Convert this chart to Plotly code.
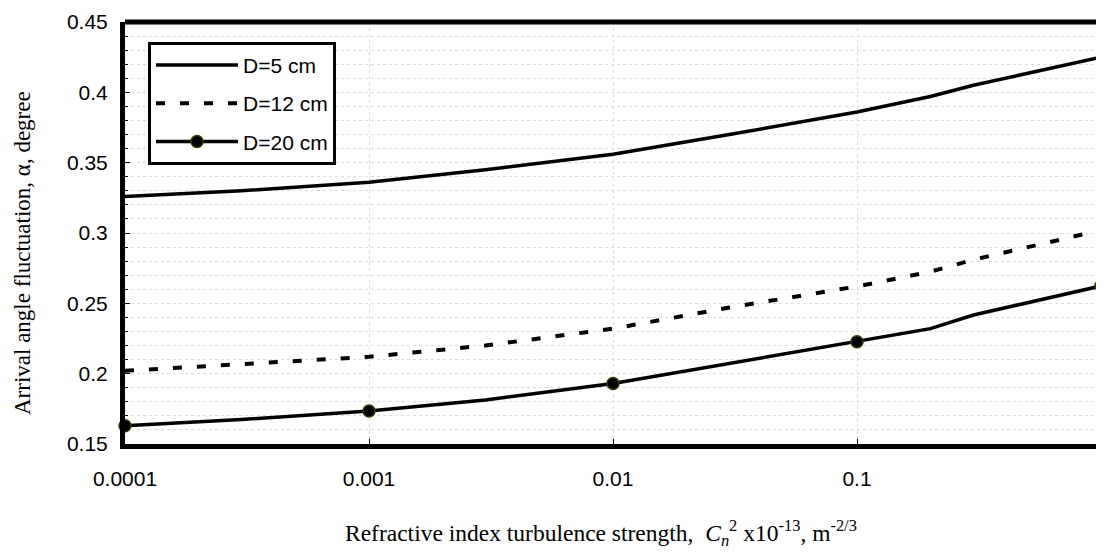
import plotly.graph_objects as go

# Data
cn2 = [0.0001, 0.0003, 0.001, 0.003, 0.01, 0.03, 0.1, 0.2, 0.3, 1.0]
alpha_d5 = [0.326, 0.330, 0.336, 0.345, 0.356, 0.370, 0.386, 0.397, 0.405, 0.425]
alpha_d12 = [0.202, 0.2065, 0.212, 0.220, 0.232, 0.247, 0.262, 0.2725, 0.281, 0.302]
alpha_d20 = [0.163, 0.1674, 0.1735, 0.1813, 0.193, 0.2074, 0.2227, 0.232, 0.2417, 0.2623]
marker_cn2 = [0.0001, 0.001, 0.01, 0.1, 1.0]
marker_d20 = [0.163, 0.1735, 0.193, 0.2227, 0.2623]

x_tickvals = [0.0001, 0.001, 0.01, 0.1, 1]
x_ticktext = ["0.0001", "0.001", "0.01", "0.1", "1"]
y_tickvals = [0.15, 0.2, 0.25, 0.3, 0.35, 0.4, 0.45]
y_ticktext = ["0.15", "0.2", "0.25", "0.3", "0.35", "0.4", "0.45"]

x_title = ("Refractive index turbulence strength,\u00a0 <i>C</i><sub><i>n</i></sub><sup>2</sup>"
           " x10<sup>-13</sup>, m<sup>-2/3</sup>")
y_title = "Arrival angle fluctuation, α, degree"

fig = go.Figure()

marker_style = dict(color="black", size=12, line=dict(color="#3a3a00", width=1.5))

fig.add_trace(go.Scatter(x=cn2, y=alpha_d5, mode="lines", name="D=5 cm",
                         line=dict(color="black", width=3.5), legendgroup="a"))
fig.add_trace(go.Scatter(x=cn2, y=alpha_d12, mode="lines", name="D=12 cm",
                         line=dict(color="black", width=4, dash="9px,15px"), legendgroup="b"))
fig.add_trace(go.Scatter(x=cn2, y=alpha_d20, mode="lines", name="D=20 cm",
                         line=dict(color="black", width=3.5), showlegend=False, legendgroup="c"))
fig.add_trace(go.Scatter(x=marker_cn2, y=marker_d20, mode="markers", name="D=20 cm",
                         marker=marker_style, showlegend=False, legendgroup="c", cliponaxis=False))
fig.add_trace(go.Scatter(x=[None], y=[None], mode="lines+markers", name="D=20 cm",
                         line=dict(color="black", width=3.5), marker=marker_style,
                         legendgroup="c"))

grid_col = "#dcdcdc"
fig.update_xaxes(
    type="log", range=[-4, 0],
    tickvals=x_tickvals, ticktext=x_ticktext,
    showline=True, linecolor="black", linewidth=5, mirror=False,
    ticks="inside", ticklen=5, tickcolor="black", tickwidth=1,
    showgrid=True, gridcolor=grid_col, gridwidth=1, griddash="dot",
    ticklabelstandoff=12, ticklabeloverflow="allow",
    tickfont=dict(family="Liberation Sans, Arial", size=21, color="black"),
    zeroline=False,
)
fig.update_yaxes(
    range=[0.15, 0.45],
    tickvals=y_tickvals, ticktext=y_ticktext,
    showline=True, linecolor="black", linewidth=5, mirror=False,
    ticks="inside", ticklen=5, tickcolor="black", tickwidth=1,
    showgrid=True, gridcolor=grid_col, gridwidth=1, griddash="dot",
    minor=dict(dtick=0.01, ticks="inside", ticklen=3, tickcolor="black",
               showgrid=True, gridcolor=grid_col, griddash="dot", gridwidth=1),
    ticklabelstandoff=8,
    tickfont=dict(family="Liberation Sans, Arial", size=21, color="black"),
    zeroline=False,
)

# axis titles
fig.add_annotation(text=y_title, textangle=-90, showarrow=False,
                   xref="paper", yref="paper", x=0, y=0.4526,
                   xanchor="center", yanchor="middle", xshift=-103,
                   font=dict(family="Liberation Serif, Times New Roman", size=23, color="black"))
fig.add_annotation(text=x_title, showarrow=False,
                   xref="paper", yref="paper", x=0.5, y=0,
                   xanchor="center", yanchor="middle", xshift=-12, yshift=-89,
                   font=dict(family="Liberation Serif, Times New Roman", size=23.5, color="black"))

# top (thick) and right (thin) frame lines
fig.add_shape(type="line", xref="paper", yref="paper", x0=0, x1=1, y0=1, y1=1,
              line=dict(color="black", width=5))
fig.add_shape(type="line", xref="paper", yref="paper", x0=1, x1=1, y0=0, y1=1,
              line=dict(color="black", width=2))

fig.update_layout(
    width=1104, height=552,
    margin=dict(l=117, r=11, t=14, b=116, autoexpand=False),
    paper_bgcolor="white", plot_bgcolor="white",
    showlegend=True,
    legend=dict(x=0.0236, y=0.953, xanchor="left", yanchor="top",
                bgcolor="white", bordercolor="black", borderwidth=3,
                font=dict(family="Liberation Sans, Arial", size=21, color="black"),
                traceorder="grouped", tracegroupgap=8, itemwidth=82),
)

fig.write_html("out.html")
